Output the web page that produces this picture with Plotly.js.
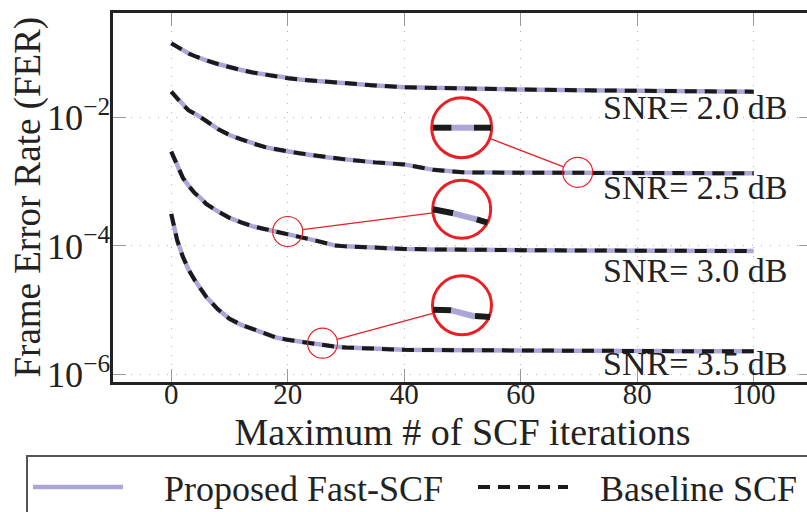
<!DOCTYPE html>
<html><head><meta charset="utf-8">
<script src="https://cdn.plot.ly/plotly-3.0.1.min.js"></script>
<style>html,body{margin:0;padding:0;overflow:hidden;background:#fff}#chart{width:1000px;height:540px}</style>
</head><body><div id="chart"></div>
<script>
// ---- data (proposed and baseline curves coincide) ----
const iterations = [0,1,2,3,4,5,6,8,10,12,14,16,18,20,22,25,28,30,35,40,45,50,60,70,80,90,100];
const fer_snr20 = [0.1426,0.1248,0.1094,0.0989,0.0905,0.0833,0.0775,0.0679,0.0603,0.0548,0.0501,0.0466,0.0434,0.0407,0.0390,0.0370,0.0350,0.0340,0.0315,0.0295,0.0288,0.0280,0.0273,0.0265,0.0258,0.0255,0.0252];
const fer_snr25 = [0.0252,0.01975,0.01565,0.01285,0.01154,0.01018,0.00882,0.00663,0.00534,0.00455,0.00394,0.00348,0.00318,0.00296,0.00277,0.00252,0.00232,0.00222,0.00200,0.00186,0.00153,0.00140,0.00138,0.00137,0.00137,0.00136,0.001357];
const fer_snr30 = [0.002938,0.001826,0.001146,0.000860,0.000670,0.000560,0.000452,0.000345,0.000274,0.000233,0.000202,0.000184,0.000169,0.000154,0.0001385,0.0001200,0.0001022,0.0000986,0.0000934,0.0000901,0.0000885,0.0000870,0.0000861,0.0000851,0.0000845,0.0000839,0.0000833];
const fer_snr35 = [0.0003155,0.0001244,0.0000677,0.0000425,0.0000297,0.0000215,0.00001616,0.00001033,0.00000735,0.00000593,0.00000505,0.00000430,0.00000376,0.00000346,0.00000323,0.00000292,0.00000272,0.00000263,0.00000251,0.00000242,0.00000240,0.00000238,0.00000235,0.00000234,0.00000232,0.00000230,0.00000229];
const snrLabels = ['SNR= 2.0 dB','SNR= 2.5 dB','SNR= 3.0 dB','SNR= 3.5 dB'];
const seriesNames = ['Proposed Fast-SCF','Baseline SCF'];
const xTickVals = [0,20,40,60,80,100];
const xTitle = 'Maximum # of SCF iterations';
const yTitle = 'Frame Error Rate (FER)';

// ---- layout geometry (paper spans x 0..1000 px, plot area x 113..812 px, y 13..382 px) ----
const W = 1000, H = 540;
const PL = 113, PR = 812, PT = 13, PB = 382;
const M = {l:0, r:0, t:PT, b:H - PB, autoexpand:false};
const px2x = p => p / W;
const px2y = p => (PB - p) / (PB - PT);
const FONT = 'Liberation Serif, Times New Roman, serif';
const LAV = '#aaa6d8', BLK = '#1a1a1a', RED = 'rgb(232,32,38)';
const pads = ['\u00a0\u00a0\u00a0\u00a0', '\u00a0\u00a0\u00a0'];

const allSeries = [fer_snr20, fer_snr25, fer_snr30, fer_snr35];
const traces = [];
allSeries.forEach((ys, i) => traces.push({
  x: iterations, y: ys, type: 'scatter', mode: 'lines',
  name: pads[0] + seriesNames[0], legendgroup: 'p', showlegend: i === 0,
  line: {color: LAV, width: 4.5}
}));
allSeries.forEach((ys, i) => traces.push({
  x: iterations, y: ys, type: 'scatter', mode: 'lines',
  name: pads[1] + seriesNames[1], legendgroup: 'b', showlegend: i === 0,
  line: {color: BLK, width: 4, dash: '12px,8px'}
}));

// SNR labels (pixel positions of text centres)
const labelPx = [[601,107.3],[601,187.3],[601,270.5],[601,363.5]];
const annotations = snrLabels.map((t, i) => ({
  text: t, xref: 'paper', yref: 'paper', x: px2x(labelPx[i][0]), y: px2y(labelPx[i][1]),
  xanchor: 'left', yanchor: 'middle', showarrow: false,
  font: {family: FONT, size: 34, color: '#222'}
}));
// y-axis title, placed as in the reference
annotations.push({
  text: yTitle, xref: 'paper', yref: 'paper', x: px2x(27), y: px2y(197.5),
  xanchor: 'center', yanchor: 'middle', textangle: -90, showarrow: false,
  font: {family: FONT, size: 37, color: '#222'}
});

// zoom-in insets
const shapes = [];
function circ(cx, cy, r, w, fill) {
  shapes.push({type:'circle', xref:'paper', yref:'paper', x0:px2x(cx-r), x1:px2x(cx+r), y0:px2y(cy+r), y1:px2y(cy-r),
    line:{color:RED, width:w}, fillcolor: fill || 'rgba(0,0,0,0)', layer:'above'});
}
function seg(x1, y1, x2, y2, color, w) {
  shapes.push({type:'line', xref:'paper', yref:'paper', x0:px2x(x1), y0:px2y(y1), x1:px2x(x2), y1:px2y(y2),
    line:{color:color, width:w}, layer:'above'});
}
function link(bx, by, br, sx, sy, sr) {
  const dx = sx - bx, dy = sy - by, d = Math.hypot(dx, dy), ux = dx/d, uy = dy/d;
  seg(bx + br*ux, by + br*uy, sx - sr*ux, sy - sr*uy, RED, 1.3);
}
// inset A
circ(461.7,127.7,30,3,'#fff');
seg(433,127.7,451.7,127.7,BLK,6); seg(451.7,127.7,474,127.7,LAV,6); seg(474,127.7,491,127.7,BLK,6);
circ(577.7,172.3,15,1.2); link(461.7,127.7,30,577.7,172.3,15);
// inset B
circ(461.7,209.3,29,3,'#fff');
seg(433,209.3,453.3,213.3,BLK,6); seg(453.3,213.3,476.7,219.3,LAV,6); seg(476.7,219.3,487.5,222.7,BLK,6);
circ(287.7,231.5,15,1.2); link(461.7,209.3,29,287.7,231.5,15);
// inset C
circ(462,305.3,29.5,3,'#fff');
seg(433,309.7,451.4,310.3,BLK,6); seg(451.4,310.3,475,316.5,LAV,6); seg(475,316,490,317,BLK,6);
circ(322.5,343.2,15,1.2); link(462,305.3,29.5,322.5,343.2,15);

const axisCommon = {
  showline: true, linecolor: '#222', linewidth: 3, mirror: 'allticks',
  ticks: 'inside', ticklen: 13, tickcolor: '#999', tickwidth: 1,
  showgrid: true, gridcolor: '#b4b4b4', gridwidth: 1, griddash: '1px,8px',
  zeroline: false, tickfont: {family: FONT, size: 29, color: '#222'}
};

const layout = {
  width: W, height: H, margin: M, paper_bgcolor: '#fff', plot_bgcolor: '#fff',
  showlegend: true,
  xaxis: Object.assign({}, axisCommon, {
    domain: [PL / W, PR / W], range: [-10, 110], tickvals: xTickVals, ticklabelstandoff: -16,
    title: {text: xTitle, font: {family: FONT, size: 38, color: '#222'}, standoff: 10}
  }),
  yaxis: Object.assign({}, axisCommon, {
    type: 'log', range: [-6.117, -0.374], dtick: 2, exponentformat: 'power', ticklabelstandoff: -6
  }),
  legend: {
    orientation: 'h', x: px2x(26), xanchor: 'left', y: px2y(455), yanchor: 'top',
    bgcolor: '#fff', bordercolor: '#555', borderwidth: 2,
    font: {family: FONT, size: 36, color: '#222'},
    itemwidth: 90, entrywidth: 340, entrywidthmode: 'pixels', traceorder: 'normal'
  },
  annotations: annotations, shapes: shapes
};
Plotly.newPlot('chart', traces, layout, {displayModeBar: false, staticPlot: true});
</script></body></html>
